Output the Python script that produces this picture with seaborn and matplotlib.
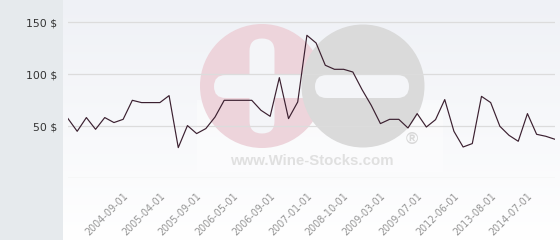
import numpy as np
import pandas as pd
import matplotlib
matplotlib.use("Agg")
import matplotlib.pyplot as plt
from matplotlib.patches import Rectangle, Circle, FancyBboxPatch
import seaborn as sns

# ---- data ----
prices = [57.4, 45.2, 58.4, 47.1, 58.4, 53.6, 56.7, 75.0, 72.8, 72.8,
          72.8, 79.5, 29.5, 50.7, 43.0, 47.8, 58.9, 75.0, 75.0, 75.0,
          75.0, 65.4, 59.6, 96.8, 57.4, 73.4, 137.5, 130.1, 108.7, 104.8,
          104.8, 102.2, 85.3, 70.2, 52.6, 56.7, 56.7, 48.4, 62.2, 49.3,
          56.4, 75.7, 45.2, 30.1, 33.4, 78.8, 72.8, 50.0, 41.3, 35.6,
          62.2, 42.3, 40.4, 37.5]
tick_index = [6, 10, 14, 18, 22, 26, 30, 34, 38, 42, 46, 50]
tick_labels = ["2004-09-01", "2005-04-01", "2005-09-01", "2006-05-01",
               "2006-09-01", "2007-01-01", "2008-10-01", "2009-03-01",
               "2009-07-01", "2012-06-01", "2013-08-01", "2014-07-01"]
y_ticks = [0, 50, 100, 150]
y_labels = ["", "50 $", "100 $", "150 $"]

df = pd.DataFrame({"i": np.arange(len(prices)), "price": prices})

W, H = 560, 240
fig = plt.figure(figsize=(W / 100, H / 100), dpi=100)

# ---- background / watermark layer (pixel coords) ----
bg = fig.add_axes([0, 0, 1, 1], zorder=0)
bg.set_xlim(0, W)
bg.set_ylim(H, 0)
bg.axis("off")
top = np.array([0xef, 0xf1, 0xf6]) / 255
bot = np.array([1.0, 1.0, 1.0])
t = np.linspace(0, 1, 256)[:, None]
grad = (top[None, :] * (1 - t) + bot[None, :] * t)[:, None, :]
bg.imshow(grad, extent=[63, W, H, 0], aspect="auto", interpolation="bilinear", zorder=0)
bg.add_patch(Rectangle((0, 0), 63, H, facecolor="#e6eaed", edgecolor="none", zorder=1))
bg.add_patch(Rectangle((197, 100), 246, 72, facecolor="white", alpha=0.4,
                       edgecolor="none", zorder=1))
pink = "#edd4db"
grey = "#dadada"
bar = "#f4f5f8"
bg.add_patch(Circle((262, 86), 62, facecolor=pink, edgecolor="none", zorder=2))
bg.add_patch(FancyBboxPatch((249.5 + 12.5, 38.5 + 12.5), 0, 95 - 25,
                            boxstyle="round,pad=12.5", facecolor=bar,
                            edgecolor="none", zorder=3))
bg.add_patch(FancyBboxPatch((214 + 11.5, 75 + 11.5), 100 - 23, 0,
                            boxstyle="round,pad=11.5", facecolor=bar,
                            edgecolor="none", zorder=3))
bg.add_patch(Circle((363, 86), 61.5, facecolor=grey, edgecolor="none", zorder=4))
bg.add_patch(FancyBboxPatch((315 + 11.5, 75 + 11.5), 94 - 23, 0,
                            boxstyle="round,pad=11.5", facecolor=bar,
                            edgecolor="none", zorder=5))
bg.text(312, 161, "www.Wine-Stocks.com", family="Liberation Sans", weight="bold",
        fontsize=10.8, color="#e0e0e0", ha="center", va="center", zorder=6)
bg.text(412, 139, "\u00ae", family="Liberation Sans", weight="bold",
        fontsize=12, color="#d8d8d8", ha="center", va="center", zorder=6)

# ---- main chart ----
ax_left, ax_right = 68, 555
y_zero = 178.3
px_per_unit = 1.04
ymax = 160
ax_h = ymax * px_per_unit
ax = fig.add_axes([ax_left / W, (H - y_zero) / H, (ax_right - ax_left) / W, ax_h / H],
                  zorder=1)
ax.patch.set_alpha(0)

sns.lineplot(data=df, x="i", y="price", ax=ax, color="#3b2030", linewidth=0.85,
             zorder=5)

ax.set_xlim(0, len(prices) - 1)
ax.set_ylim(0, ymax)
ax.set_yticks(y_ticks)
ax.set_yticklabels(y_labels)
ax.set_xticks(tick_index)
ax.set_xticklabels(tick_labels, rotation=45, ha="right", rotation_mode="anchor")
ax.tick_params(axis="y", length=0, pad=8, labelsize=7.8, labelcolor="#333333")
ax.tick_params(axis="x", length=0, pad=9, labelsize=6.9, labelcolor="#959595")
ax.yaxis.grid(True, color="#dcdcdc", linewidth=0.9)
ax.xaxis.grid(False)
ax.set_axisbelow(True)
for s in ax.spines.values():
    s.set_visible(False)
ax.set_xlabel("")
ax.set_ylabel("")

fig.savefig("out.png", dpi=100)
